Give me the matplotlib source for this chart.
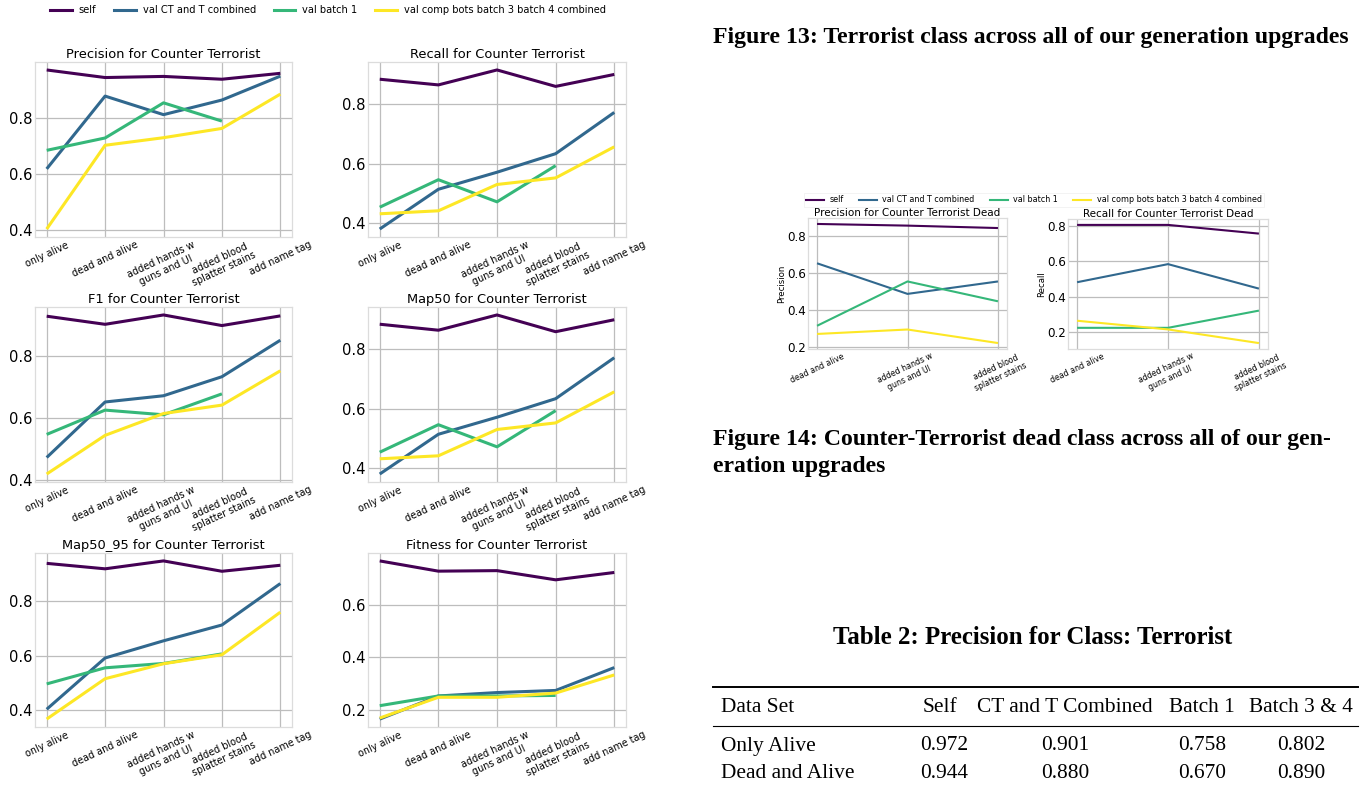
import matplotlib
matplotlib.use("Agg")
import matplotlib.pyplot as plt
from matplotlib.lines import Line2D

# ---- data -------------------------------------------------------------
stages = ["only alive", "dead and alive", "added hands w\nguns and UI",
          "added blood\nsplatter stains", "add name tag"]
dead_stages = ["dead and alive", "added hands w\nguns and UI",
               "added blood\nsplatter stains"]
series_names = ["self", "val CT and T combined", "val batch 1",
                "val comp bots batch 3 batch 4 combined"]
series_colors = ["#440154", "#31688e", "#35b779", "#fde725"]

precision_self = [0.970, 0.943, 0.947, 0.937, 0.958]
precision_ct_t = [0.618, 0.877, 0.811, 0.863, 0.948]
precision_batch1 = [0.684, 0.728, 0.853, 0.788]
precision_batch34 = [0.404, 0.702, 0.729, 0.762, 0.884]

recall_self = [0.882, 0.863, 0.913, 0.858, 0.898]
recall_ct_t = [0.381, 0.514, 0.571, 0.633, 0.771]
recall_batch1 = [0.454, 0.546, 0.472, 0.593]
recall_batch34 = [0.432, 0.442, 0.530, 0.552, 0.656]

f1_self = [0.926, 0.900, 0.930, 0.896, 0.927]
f1_ct_t = [0.473, 0.651, 0.671, 0.732, 0.849]
f1_batch1 = [0.547, 0.625, 0.610, 0.677]
f1_batch34 = [0.420, 0.544, 0.614, 0.641, 0.751]

map50_self = [0.882, 0.862, 0.913, 0.857, 0.897]
map50_ct_t = [0.381, 0.514, 0.571, 0.633, 0.770]
map50_batch1 = [0.454, 0.546, 0.472, 0.593]
map50_batch34 = [0.432, 0.442, 0.530, 0.552, 0.656]

map50_95_self = [0.939, 0.919, 0.948, 0.910, 0.932]
map50_95_ct_t = [0.404, 0.592, 0.655, 0.713, 0.865]
map50_95_batch1 = [0.497, 0.556, 0.572, 0.607]
map50_95_batch34 = [0.368, 0.516, 0.571, 0.604, 0.760]

fitness_self = [0.767, 0.728, 0.730, 0.695, 0.723]
fitness_ct_t = [0.165, 0.253, 0.266, 0.274, 0.361]
fitness_batch1 = [0.216, 0.253, 0.253, 0.255]
fitness_batch34 = [0.169, 0.248, 0.248, 0.264, 0.333]

dead_precision_self = [0.865, 0.856, 0.843]
dead_precision_ct_t = [0.653, 0.488, 0.555]
dead_precision_batch1 = [0.316, 0.555, 0.448]
dead_precision_batch34 = [0.272, 0.296, 0.223]

dead_recall_self = [0.804, 0.804, 0.755]
dead_recall_ct_t = [0.481, 0.583, 0.445]
dead_recall_batch1 = [0.224, 0.224, 0.321]
dead_recall_batch34 = [0.264, 0.215, 0.138]

table_header = ["Data Set", "Self", "CT and T Combined", "Batch 1", "Batch 3 & 4"]
table_rows = ["Only Alive", "Dead and Alive"]
table_self = [0.972, 0.944]
table_ct_t = [0.901, 0.880]
table_batch1 = [0.758, 0.670]
table_batch34 = [0.802, 0.890]

# ---- figure -----------------------------------------------------------
W, H = 1370, 787
fig = plt.figure(figsize=(W / 100, H / 100), dpi=100)
fig.patch.set_facecolor("white")
plt.rcParams["font.family"] = "DejaVu Sans"


def px_axes(left, top, right, bottom):
    return fig.add_axes([left / W, 1 - bottom / H, (right - left) / W, (bottom - top) / H])


def style_axes(ax, ytick_size, xtick_size, title, title_size, title_pad):
    ax.set_facecolor("white")
    ax.grid(True, color="#bdbdbd", linewidth=0.9)
    ax.set_axisbelow(True)
    for sp in ax.spines.values():
        sp.set_color("#dcdcdc")
        sp.set_linewidth(0.9)
    ax.tick_params(axis="both", length=0)
    ax.tick_params(axis="y", labelsize=ytick_size, pad=1.5)
    ax.tick_params(axis="x", labelsize=xtick_size, pad=2)
    for lab in ax.get_xticklabels():
        lab.set_rotation(25)
        lab.set_ha("center")
        lab.set_multialignment("center")
    ax.set_title(title, fontsize=title_size, pad=title_pad)


def draw_panel(ax, labels, groups, lw):
    for vals, color in zip(groups, series_colors):
        ax.plot(range(len(vals)), vals, color=color, linewidth=lw,
                solid_capstyle="butt")
    ax.set_xticks(range(len(labels)))
    ax.set_xticklabels(labels)


panels = [
    ("Precision for Counter Terrorist",
     [precision_self, precision_ct_t, precision_batch1, precision_batch34]),
    ("Recall for Counter Terrorist",
     [recall_self, recall_ct_t, recall_batch1, recall_batch34]),
    ("F1 for Counter Terrorist",
     [f1_self, f1_ct_t, f1_batch1, f1_batch34]),
    ("Map50 for Counter Terrorist",
     [map50_self, map50_ct_t, map50_batch1, map50_batch34]),
    ("Map50_95 for Counter Terrorist",
     [map50_95_self, map50_95_ct_t, map50_95_batch1, map50_95_batch34]),
    ("Fitness for Counter Terrorist",
     [fitness_self, fitness_ct_t, fitness_batch1, fitness_batch34]),
]
col_x = [(35, 292), (368, 626)]
row_y = [(62, 237), (307, 482), (553, 727)]

for i, (title, groups) in enumerate(panels):
    r, c = divmod(i, 2)
    ax = px_axes(col_x[c][0], row_y[r][0], col_x[c][1], row_y[r][1])
    draw_panel(ax, stages, groups, 2.2)
    style_axes(ax, 10.6, 6.9, title, 9.4, 3)

handles = [Line2D([], [], color=c, linewidth=2.2) for c in series_colors]
fig.legend(handles, series_names, loc="center", ncol=4, frameon=False,
           fontsize=7.1, bbox_to_anchor=(328 / W, 1 - 10 / H),
           handlelength=2.2, columnspacing=1.8, handletextpad=0.7)

# counter-terrorist dead panels
ax_p = px_axes(808, 218, 1007, 349)
draw_panel(ax_p, dead_stages,
           [dead_precision_self, dead_precision_ct_t, dead_precision_batch1,
            dead_precision_batch34], 1.5)
style_axes(ax_p, 8.6, 5.6, "Precision for Counter Terrorist Dead", 7.5, 1.5)
ax_p.set_ylabel("Precision", fontsize=6.2, labelpad=1)

ax_r = px_axes(1068, 219, 1268, 349)
draw_panel(ax_r, dead_stages,
           [dead_recall_self, dead_recall_ct_t, dead_recall_batch1,
            dead_recall_batch34], 1.5)
style_axes(ax_r, 8.6, 5.6, "Recall for Counter Terrorist Dead", 7.5, 1.5)
ax_r.set_ylabel("Recall", fontsize=6.2, labelpad=1)

small_handles = [Line2D([], [], color=c, linewidth=1.5) for c in series_colors]
leg = fig.legend(small_handles, series_names, loc="center", ncol=4, frameon=True,
                 fontsize=5.8, bbox_to_anchor=(1034 / W, 1 - 200 / H),
                 handlelength=2.2, columnspacing=1.9, handletextpad=0.7,
                 borderpad=0.3, fancybox=False)
leg.get_frame().set_edgecolor("#eeeeee")
leg.get_frame().set_linewidth(0.6)

# ---- captions and table ----------------------------------------------
renderer = fig.canvas.get_renderer()
serif = "Liberation Serif"


def fitted_text(x, y, s, width, **kw):
    t = fig.text(x / W, 1 - y / H, s, fontsize=10, family=serif, **kw)
    w = t.get_window_extent(renderer).width
    t.set_fontsize(10 * width / w)
    return t.get_fontsize()


cap_size = fitted_text(713, 37, "Figure 13: Terrorist class across all of our generation upgrades",
                       639, weight="bold", ha="left", va="center")
fig.text(713 / W, 1 - 440 / H,
         "Figure 14: Counter-Terrorist dead class across all of our gen-",
         fontsize=cap_size, family=serif, weight="bold", ha="left", va="center")
fig.text(713 / W, 1 - 467 / H, "eration upgrades",
         fontsize=cap_size, family=serif, weight="bold", ha="left", va="center")

fitted_text(1033, 637, "Table 2: Precision for Class: Terrorist", 400,
            weight="bold", ha="center", va="center")

body_size = fitted_text(1065, 707, table_header[2], 175, ha="center", va="center")
fig.text(721 / W, 1 - 707 / H, table_header[0], fontsize=body_size, family=serif,
         ha="left", va="center")
header_x = [None, 940, None, 1202, 1301]
for j in (1, 3, 4):
    fig.text(header_x[j] / W, 1 - 707 / H, table_header[j], fontsize=body_size,
             family=serif, ha="center", va="center")

row_y_px = [746, 773]
value_cols = [(944, table_self), (1065, table_ct_t), (1202, table_batch1),
              (1301, table_batch34)]
for k, name in enumerate(table_rows):
    y = 1 - row_y_px[k] / H
    fig.text(721 / W, y, name, fontsize=body_size, family=serif, ha="left", va="center")
    for x, vals in value_cols:
        fig.text(x / W, y, f"{vals[k]:.3f}", fontsize=body_size, family=serif,
                 ha="center", va="center")

fig.add_artist(Line2D([713 / W, 1358 / W], [1 - 687 / H] * 2, color="black", linewidth=1.4))
fig.add_artist(Line2D([713 / W, 1358 / W], [1 - 726 / H] * 2, color="black", linewidth=0.8))

fig.savefig("out.png", dpi=100, facecolor="white")
